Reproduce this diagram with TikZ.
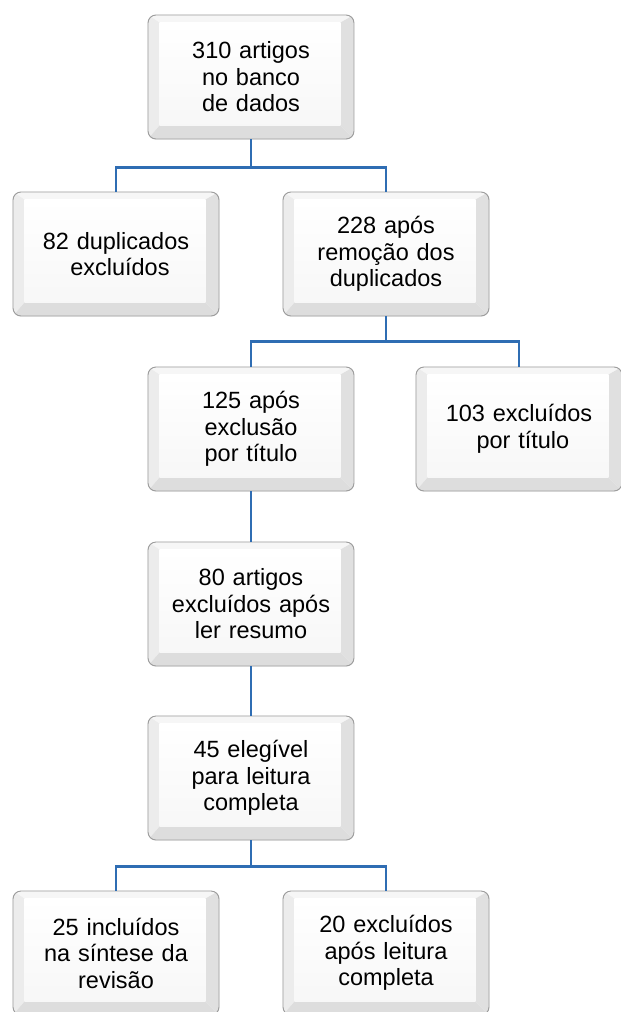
\documentclass[tikz,border=0pt]{standalone}
\usepackage{fontspec}
\setmainfont{Liberation Sans}
\usetikzlibrary{backgrounds,calc}
\definecolor{linkblue}{HTML}{2F6DB3}
\definecolor{edgegray}{HTML}{9C9C9C}
\tikzset{
  btn/.style={draw=edgegray, line width=0.9pt, rounded corners=8pt,
    minimum width=206pt, minimum height=124pt, inner sep=0pt,
    text width=190pt, align=center,
    font=\fontsize{23.5}{26.5}\selectfont},
  link/.style={draw=linkblue, line width=2.6pt}
}
\begin{document}
\begin{tikzpicture}[x=1pt,y=-1pt]
\useasboundingbox (0,0) rectangle (621,1012);
\clip (0,0) rectangle (621,1012);
\node[btn] (b1) at (251,77) {310 artigos\\no banco\\de dados};
\node[btn] (b2) at (116,254) {82 duplicados\\\ excluídos};
\node[btn] (b3) at (386,254) {228 após\\remoção dos\\duplicados};
\node[btn] (b4) at (251,429) {125 após\\exclusão\\por título};
\node[btn] (b5) at (519,429) {103 excluídos\\\ por título};
\node[btn] (b6) at (251,604) {80 artigos\\excluídos após\\ler resumo};
\node[btn] (b7) at (251,778) {45 elegível\\para leitura\\completa};
\node[btn] (b8) at (116,953) {25 incluídos\\na síntese da\\revisão};
\node[btn] (b9) at (386,953) {20 excluídos\\após leitura\\completa};
\begin{scope}[on background layer]
\foreach \n in {b1,b2,b3,b4,b5,b6,b7,b8,b9}{
  \begin{scope}
    \clip[rounded corners=8pt] (\n.north west) rectangle (\n.south east);
    \coordinate (NW) at ($(\n.north west)+(12,8)$);
    \coordinate (NE) at ($(\n.north east)+(-14,8)$);
    \coordinate (SE) at ($(\n.south east)+(-14,-14)$);
    \coordinate (SW) at ($(\n.south west)+(12,-14)$);
    \fill[gray!7] (\n.north west) -- (\n.north east) -- (NE) -- (NW) -- cycle;
    \fill[gray!15] (\n.north west) -- (NW) -- (SW) -- (\n.south west) -- cycle;
    \fill[gray!24] (\n.north east) -- (\n.south east) -- (SE) -- (NE) -- cycle;
    \fill[gray!27] (\n.south west) -- (SW) -- (SE) -- (\n.south east) -- cycle;
    \shade[top color=white, bottom color=gray!6] (NW) rectangle (SE);
  \end{scope}
}
\end{scope}
\draw[link] (b1.south) -- ++(0,28) coordinate (j1);
\draw[link] (b2.north) |- (j1) -| (b3.north);
\draw[link] (b3.south) -- ++(0,25) coordinate (j2);
\draw[link] (b4.north) |- (j2) -| (b5.north);
\draw[link] (b4.south) -- (b6.north);
\draw[link] (b6.south) -- (b7.north);
\draw[link] (b7.south) -- ++(0,26) coordinate (j3);
\draw[link] (b8.north) |- (j3) -| (b9.north);
\end{tikzpicture}
\end{document}
